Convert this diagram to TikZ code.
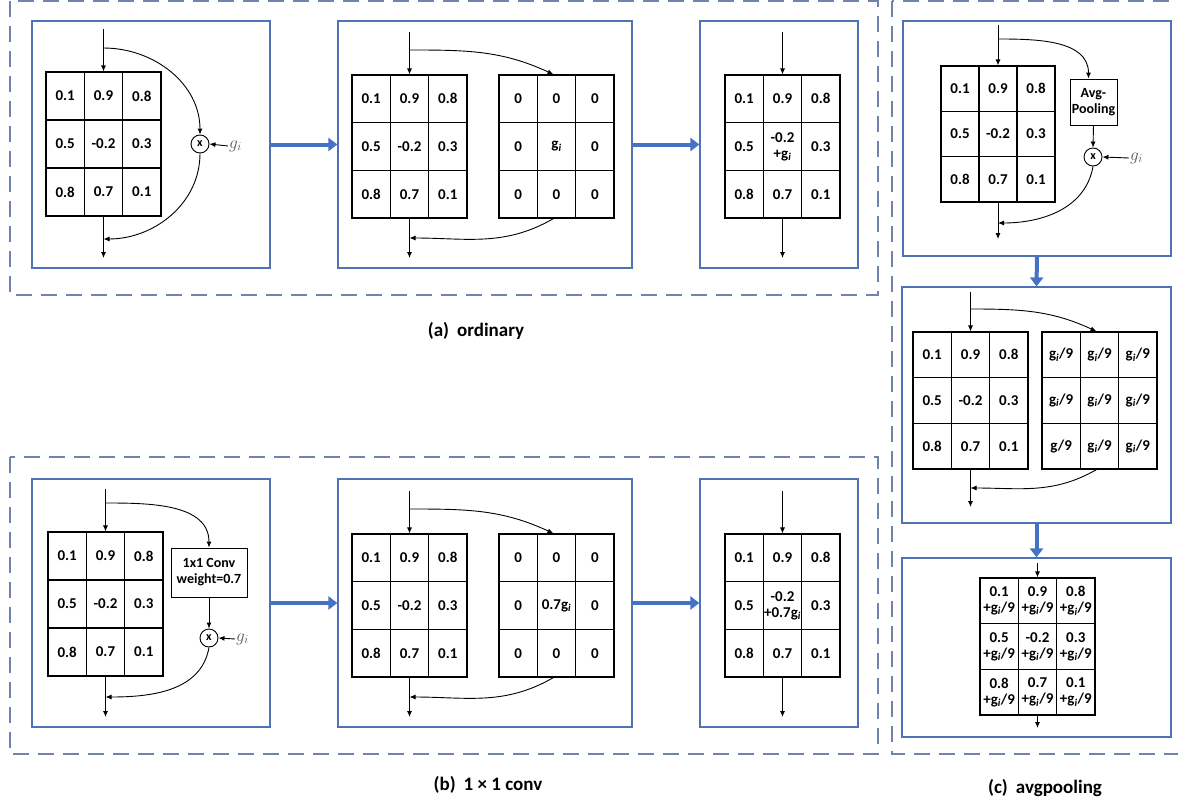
\documentclass[tikz,border=0pt]{standalone}
\usepackage{fontspec}
\setmainfont{Carlito}
\usetikzlibrary{arrows.meta}
\definecolor{panelblue}{RGB}{79,114,180}
\definecolor{regionblue}{RGB}{110,132,175}
\definecolor{flowblue}{RGB}{68,114,196}
\newcommand{\gsub}{g\textsubscript{\textit{i}}}
\newcommand{\gnine}{g\textsubscript{\textit{i}}/9}
\begin{document}
\begin{tikzpicture}
[x=1pt,y=-1pt,
  celldecorate/.style={draw,line width=1.1pt,inner sep=0pt,align=center,
    font=\bfseries\fontsize{15}{16}\selectfont},
  paneldecorate/.style={draw=panelblue,line width=1.2pt,inner sep=0pt},
  regiondecorate/.style={draw=regionblue,line width=1.4pt,dash pattern=on 16pt off 9pt},
  linedecorate/.style={-{Latex[length=6pt,width=5pt]},line width=0.9pt},
  bigarrowdecorate/.style={-{Triangle[length=9pt,width=13pt]},line width=4pt,draw=flowblue},
  multdecorate/.style={circle,draw,line width=0.9pt,inner sep=0pt,minimum size=18pt,
    font=\bfseries\fontsize{12}{12}\selectfont},
  opdecorate/.style={draw,line width=0.9pt,inner sep=1pt,align=center,
    font=\bfseries\fontsize{14}{16}\selectfont},
  gaindecorate/.style={anchor=west,inner sep=1pt,text=black!65,font=\fontsize{17}{17}\selectfont},
  captiondecorate/.style={font=\bfseries\fontsize{19}{22}\selectfont}]
\useasboundingbox (0,0) rectangle (1178,803);
%% dashed regions
\draw[regiondecorate] (10,1) rectangle (878,295);
\draw[regiondecorate] (10,457) rectangle (878,754);
\draw[regiondecorate] (892,1) rectangle (1190,754);
%% panels
\foreach \nodename/\x/\y/\w/\h in {pa1/151/144.5/238/247, pa2/485/144.5/294/247,
  pa3/779/144.5/158/247, pb1/151/603/238/248, pb2/485/603/294/248,
  pb3/779/603/158/248, pc1/1037/138.5/268/235, pc2/1036.5/405/269/236,
  pc3/1036.5/647.5/269/179}
{
  \node[paneldecorate,minimum width=\w pt,minimum height=\h pt] (\nodename) at (\x,\y) {};
}
%% grids
\foreach \g/\gx/\gy/\gw/\gh in {a1/46/72/38.33/48, a2/352/75/38.33/47.67,
  b1/48/532/38.33/48, b2/352/534/38.33/47.67, c1/941/66/38/45.33,
  c2/913/332/38.33/45.67}
  \foreach \v [count=\k from 0] in {0.1,0.9,0.8,0.5,-0.2,0.3,0.8,0.7,0.1}
  {
    \pgfmathtruncatemacro{\row}{\k/3}
    \pgfmathtruncatemacro{\col}{\k-3*\row}
    \node[celldecorate,minimum width=\gw pt,minimum height=\gh pt] (\g-\k)
      at ({\gx+(\col+0.5)*\gw},{\gy+(\row+0.5)*\gh}) {\v};
  }
\foreach \g/\gy/\gm in {a2z/75/\gsub, b2z/534/0.7\gsub}
  \foreach \v [count=\k from 0] in {0,0,0,0,\gm,0,0,0,0}
  {
    \pgfmathtruncatemacro{\row}{\k/3}
    \pgfmathtruncatemacro{\col}{\k-3*\row}
    \node[celldecorate,minimum width=38.33pt,minimum height=47.67pt] (\g-\k)
      at ({499+(\col+0.5)*38.33},{\gy+(\row+0.5)*47.67}) {\v};
  }
\foreach \g/\gy/\gm in {a3/75/\gsub, b3/534/0.7\gsub}
  \foreach \v [count=\k from 0] in {0.1,0.9,0.8,0.5,{-0.2\\+\gm},0.3,0.8,0.7,0.1}
  {
    \pgfmathtruncatemacro{\row}{\k/3}
    \pgfmathtruncatemacro{\col}{\k-3*\row}
    \node[celldecorate,minimum width=38.33pt,minimum height=47.67pt] (\g-\k)
      at ({725+(\col+0.5)*38.33},{\gy+(\row+0.5)*47.67}) {\v};
  }
\foreach \v [count=\k from 0] in {\gnine,\gnine,\gnine,\gnine,\gnine,\gnine,g/9,\gnine,\gnine}
{
  \pgfmathtruncatemacro{\row}{\k/3}
  \pgfmathtruncatemacro{\col}{\k-3*\row}
  \node[celldecorate,minimum width=38.33pt,minimum height=45.67pt] (c2z-\k)
    at ({1042+(\col+0.5)*38.33},{332+(\row+0.5)*45.67}) {\v};
}
\foreach \v [count=\k from 0] in {{0.1\\+\gnine},{0.9\\+\gnine},{0.8\\+\gnine},
  {0.5\\+\gnine},{-0.2\\+\gnine},{0.3\\+\gnine},{0.8\\+\gnine},{0.7\\+\gnine},{0.1\\+\gnine}}
{
  \pgfmathtruncatemacro{\row}{\k/3}
  \pgfmathtruncatemacro{\col}{\k-3*\row}
  \node[celldecorate,minimum width=38.33pt,minimum height=45.67pt] (c3-\k)
    at ({980+(\col+0.5)*38.33},{578+(\row+0.5)*45.67}) {\v};
}
%% operators
\node[multdecorate] (a1x) at (200,144) {x};
\node[multdecorate] (b1x) at (209,638) {x};
\node[multdecorate] (c1x) at (1093,157) {x};
\node[gaindecorate] (a1g) at (228,146) {$g_i$};
\node[gaindecorate] (b1g) at (235,639) {$g_i$};
\node[gaindecorate] (c1g) at (1129,158) {$g_i$};
\node[opdecorate,minimum width=76pt,minimum height=49pt] (b1conv) at (209,572.5) {1x1 Conv\\weight=0.7};
\node[opdecorate,minimum width=47pt,minimum height=46pt] (c1pool) at (1093.5,102) {Avg-\\Pooling};
%% coordinates
\foreach \nodename/\x/\y in {a1in/103.5/29, a1br/103.5/48, a1back/103.5/239, a1out/103.5/258,
  a2in/409.5/32, a2br/409.5/50, a2back/409.5/238, a2out/409.5/258,
  a3in/782.5/32, a3out/782.5/258,
  b1in/105.5/489, b1br/105.5/503, b1back/105.5/697, b1out/105.5/717,
  b2in/409.5/491, b2br/409.5/509, b2back/409.5/697, b2out/409.5/717,
  b3in/782.5/491, b3out/782.5/717,
  c1in/998/25, c1br/998/39, c1back/998/223, c1out/998/239,
  c2in/970.5/292, c2br/970.5/309, c2back/970.5/488, c2out/970.5/507,
  c3in/1037.5/563, c3out/1037.5/728}
{
  \coordinate (\nodename) at (\x,\y);
}
%% edges or lines
\foreach \startnode/\endnode in {a1in/a1-1.north, a1-7.south/a1out,
  a2in/a2-1.north, a2-7.south/a2out, a3in/a3-1.north, a3-7.south/a3out,
  b1in/b1-1.north, b1-7.south/b1out, b2in/b2-1.north, b2-7.south/b2out,
  b3in/b3-1.north, b3-7.south/b3out, c1in/c1-1.north, c1-7.south/c1out,
  c2in/c2-1.north, c2-7.south/c2out, c3in/c3-1.north, c3-7.south/c3out,
  b1conv.south/b1x.north, c1pool.south/c1x.north,
  a1g.west/a1x.east, b1g.west/b1x.east, c1g.west/c1x.east}
{
  \draw[linedecorate] (\startnode) -- (\endnode);
}
\draw[linedecorate] (a1br) to[out=0,in=90] (a1x.north);
\draw[linedecorate] (a1x.south) to[out=-90,in=0] (a1back);
\draw[linedecorate] (a2br) to[out=0,in=155] ([xshift=-3pt]a2z-1.north);
\draw[linedecorate] ([xshift=-3pt]a2z-7.south) to[out=-150,in=0] (a2back);
\draw[linedecorate] (b1br) to[out=0,in=90] (b1conv.north);
\draw[linedecorate] (b1x.south) to[out=-100,in=0] (b1back);
\draw[linedecorate] (b2br) to[out=0,in=155] ([xshift=-3pt]b2z-1.north);
\draw[linedecorate] ([xshift=-3pt]b2z-7.south) to[out=-150,in=0] (b2back);
\draw[linedecorate] (c1br) to[out=0,in=90] ([xshift=-5pt]c1pool.north);
\draw[linedecorate] (c1x.south) to[out=-100,in=0] (c1back);
\draw[linedecorate] (c2br) to[out=0,in=155] ([xshift=-3pt]c2z-1.north);
\draw[linedecorate] ([xshift=-3pt]c2z-7.south) to[out=-150,in=0] (c2back);
%% panel arrows
\foreach \startnode/\endnode in {pa1.east/pa2.west, pa2.east/pa3.west,
  pb1.east/pb2.west, pb2.east/pb3.west, pc1.south/pc2.north, pc2.south/pc3.north}
{
  \draw[bigarrowdecorate] (\startnode) -- (\endnode);
}
%% captions
\node[captiondecorate] (capa) at (476,331) {(a)\hspace{8pt}ordinary};
\node[captiondecorate] (capb) at (488,785) {(b)\hspace{8pt}1 × 1 conv};
\node[captiondecorate] (capc) at (1045,788) {(c)\hspace{8pt}avgpooling};
\end{tikzpicture}
\end{document}
